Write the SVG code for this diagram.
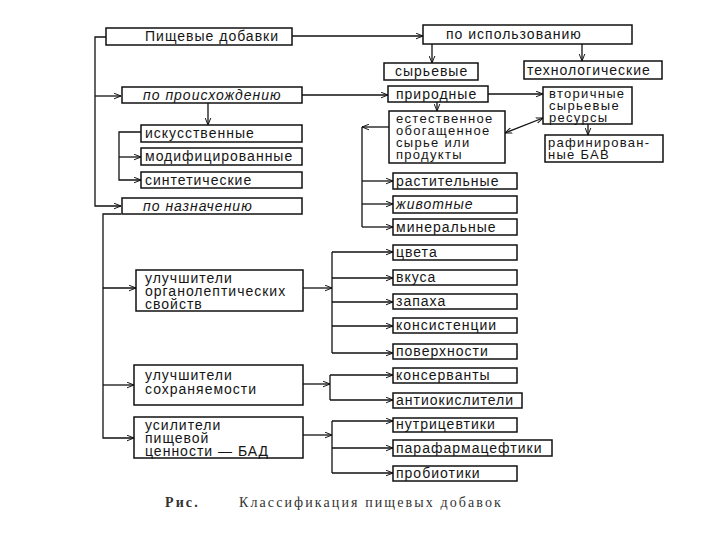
<svg xmlns="http://www.w3.org/2000/svg" width="720" height="540" viewBox="0 0 720 540">
<defs>
<style>
.b{fill:#fff;stroke:#111;stroke-width:1.5}
.t{font-family:"Liberation Sans",Arial,sans-serif;font-size:14px;letter-spacing:1px;fill:#151515}
.s{font-size:13px;letter-spacing:1.3px}
.i{font-style:italic}
.c{fill:none;stroke:#111;stroke-width:1.3}
.a{marker-end:url(#ah)}
.cap{font-family:"Liberation Serif","Times New Roman",serif;font-size:14px;fill:#333;letter-spacing:2.1px}
</style>
<marker id="ah" viewBox="0 0 10 10" refX="10" refY="5" markerWidth="7" markerHeight="7" orient="auto-start-reverse" markerUnits="userSpaceOnUse">
<path d="M0,1 L10,5 L0,9" fill="none" stroke="#111" stroke-width="1.4"/>
</marker>
</defs>
<rect width="720" height="540" fill="#fff"/>
<g id="connectors">
<path class="c a" d="M106,37 H95 V206 H121"/>
<path class="c a" d="M95,96 H121"/>
<path class="c a" d="M292,36 H423"/>
<path class="c a" d="M432,44 V63"/>
<path class="c a" d="M582,44 V61"/>
<path class="c a" d="M302,95 H388"/>
<path class="c a" d="M488,94 H543"/>
<path class="c a" d="M437,102 V111"/>
<path class="c a" d="M505,133 L543,118" marker-start="url(#ah)"/>
<path class="c a" d="M588,124 V135"/>
<path class="c a" d="M389,127 H362"/>
<path class="c" d="M362,127 V227"/>
<path class="c a" d="M362,181 H393"/>
<path class="c a" d="M362,204 H393"/>
<path class="c a" d="M362,227 H393"/>
<path class="c a" d="M208,103 V125"/>
<path class="c a" d="M141,132 H119 V180 H141"/>
<path class="c a" d="M119,157 H141"/>
<path class="c a" d="M121,214 H103 V438 H134"/>
<path class="c a" d="M103,288 H136"/>
<path class="c a" d="M103,385 H134"/>
<path class="c a" d="M303,288 H332"/>
<path class="c" d="M332,252 V353"/>
<path class="c a" d="M332,252 H393"/>
<path class="c a" d="M332,278 H393"/>
<path class="c a" d="M332,302 H393"/>
<path class="c a" d="M332,326 H393"/>
<path class="c a" d="M332,353 H393"/>
<path class="c a" d="M303,384 H330"/>
<path class="c" d="M330,375 V400"/>
<path class="c a" d="M330,375 H393"/>
<path class="c a" d="M330,400 H393"/>
<path class="c a" d="M303,435 H332"/>
<path class="c" d="M332,421 V473"/>
<path class="c a" d="M332,421 H393"/>
<path class="c a" d="M332,448 H393"/>
<path class="c a" d="M332,473 H393"/>
</g>
<g id="pd"><rect class="b" x="106" y="28" width="186" height="17"/><text class="t" x="145" y="41">Пищевые добавки</text></g>
<g id="isp"><rect class="b" x="423" y="25" width="209" height="19"/><text class="t" x="446" y="39">по использованию</text></g>
<g id="syr"><rect class="b" x="384" y="63" width="94" height="17"/><text class="t" x="395" y="76">сырьевые</text></g>
<g id="tech"><rect class="b" x="524" y="61" width="138" height="18"/><text class="t" x="527" y="75">технологические</text></g>
<g id="proish"><rect class="b" x="122" y="87" width="180" height="16"/><text class="t i" x="143" y="100">по происхождению</text></g>
<g id="prir"><rect class="b" x="388" y="86" width="100" height="16"/><text class="t" x="396" y="99">природные</text></g>
<g id="vtor"><rect class="b" x="543" y="87" width="89" height="37"/><text class="t s" x="549" y="98">вторичные</text><text class="t s" x="549" y="110">сырьевые</text><text class="t s" x="549" y="122">ресурсы</text></g>
<g id="raf"><rect class="b" x="545" y="135" width="118" height="27"/><text class="t s" x="548" y="147">рафинирован-</text><text class="t s" x="548" y="159">ные БАВ</text></g>
<g id="est"><rect class="b" x="389" y="111" width="116" height="52"/><text class="t s" x="396" y="123">естественное</text><text class="t s" x="396" y="135">обогащенное</text><text class="t s" x="396" y="147">сырье или</text><text class="t s" x="396" y="159">продукты</text></g>
<g id="isk"><rect class="b" x="141" y="125" width="161" height="17"/><text class="t" x="145" y="138">искусственные</text></g>
<g id="mod"><rect class="b" x="141" y="148" width="161" height="17"/><text class="t" x="145" y="161">модифицированные</text></g>
<g id="sin"><rect class="b" x="141" y="172" width="161" height="16"/><text class="t" x="145" y="185">синтетические</text></g>
<g id="naz"><rect class="b" x="122" y="198" width="180" height="16"/><text class="t i" x="143" y="211">по назначению</text></g>
<g id="rast"><rect class="b" x="393" y="173" width="124" height="16"/><text class="t" x="396" y="186">растительные</text></g>
<g id="zhiv"><rect class="b" x="393" y="196" width="124" height="17"/><text class="t i" x="396" y="209">животные</text></g>
<g id="min"><rect class="b" x="393" y="219" width="124" height="16"/><text class="t" x="396" y="232">минеральные</text></g>
<g id="cvet"><rect class="b" x="393" y="245" width="124" height="15"/><text class="t" x="396" y="257">цвета</text></g>
<g id="vkus"><rect class="b" x="393" y="270" width="124" height="15"/><text class="t" x="396" y="282">вкуса</text></g>
<g id="zap"><rect class="b" x="393" y="294" width="124" height="15"/><text class="t" x="396" y="306">запаха</text></g>
<g id="kons"><rect class="b" x="393" y="318" width="124" height="15"/><text class="t" x="396" y="330">консистенции</text></g>
<g id="pov"><rect class="b" x="393" y="344" width="124" height="15"/><text class="t" x="396" y="356">поверхности</text></g>
<g id="uo"><rect class="b" x="136" y="270" width="167" height="41"/><text class="t" x="145" y="283">улучшители</text><text class="t" x="145" y="296">органолептических</text><text class="t" x="145" y="309">свойств</text></g>
<g id="us"><rect class="b" x="134" y="365" width="169" height="40"/><text class="t" x="145" y="380">улучшители</text><text class="t" x="145" y="394">сохраняемости</text></g>
<g id="usil"><rect class="b" x="134" y="417" width="169" height="41"/><text class="t" x="145" y="430">усилители</text><text class="t" x="145" y="443">пищевой</text><text class="t" x="145" y="456">ценности — БАД</text></g>
<g id="konserv"><rect class="b" x="393" y="368" width="124" height="15"/><text class="t" x="396" y="380">консерванты</text></g>
<g id="anti"><rect class="b" x="393" y="393" width="129" height="15"/><text class="t" x="396" y="405">антиокислители</text></g>
<g id="nutr"><rect class="b" x="393" y="418" width="124" height="14"/><text class="t" x="396" y="429">нутрицевтики</text></g>
<g id="para"><rect class="b" x="393" y="440" width="159" height="16"/><text class="t" x="396" y="453">парафармацефтики</text></g>
<g id="prob"><rect class="b" x="393" y="466" width="124" height="15"/><text class="t" x="396" y="478">пробиотики</text></g>
<g id="caption"><text class="cap" x="165" y="507" font-weight="bold" letter-spacing="1">Рис.</text><text class="cap" x="239" y="507">Классификация пищевых добавок</text></g>
</svg>
